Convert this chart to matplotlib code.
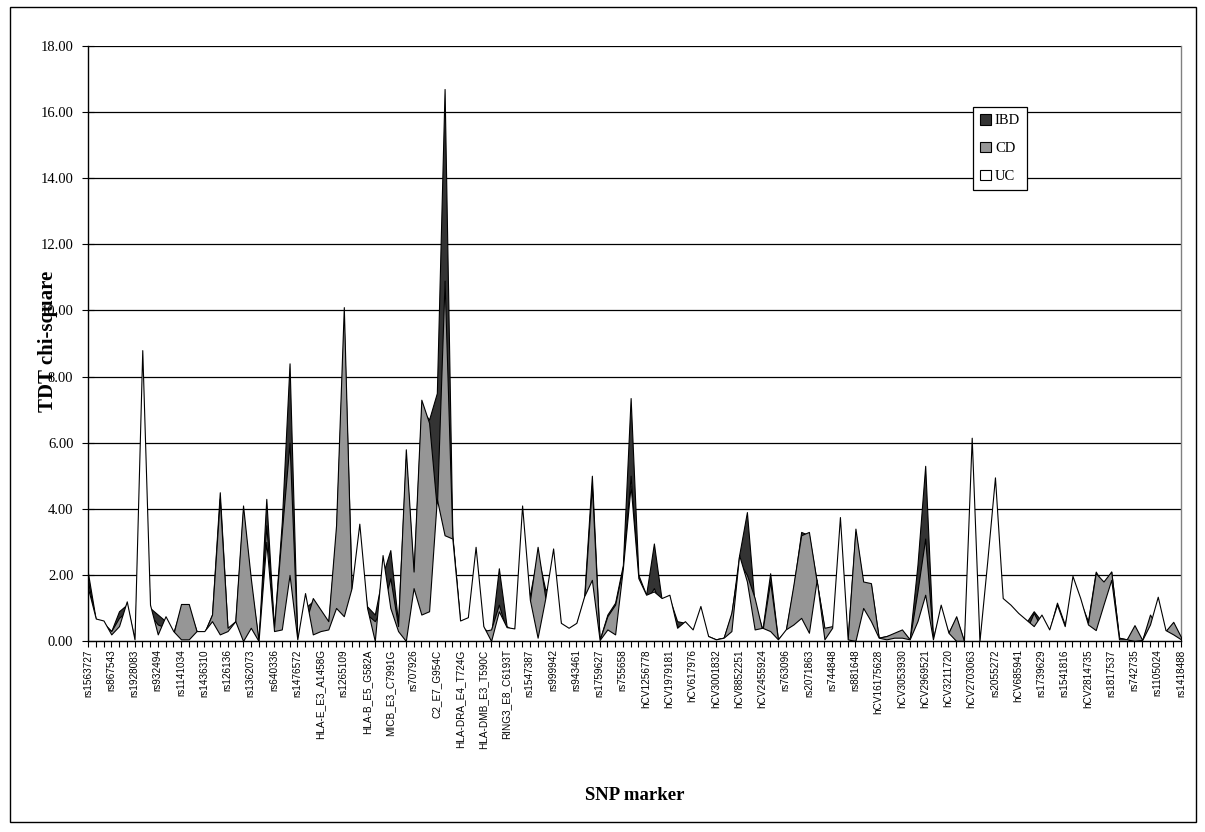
import matplotlib
matplotlib.use("Agg")
import matplotlib.pyplot as plt
from matplotlib.patches import Patch, Rectangle
import numpy as np

tick_labels = ["rs1563727", "rs867543", "rs1928083", "rs932494", "rs1141034", "rs1436310",
               "rs126136", "rs1362073", "rs640336", "rs1476572", "HLA-E_E3_A1458G", "rs1265109",
               "HLA-B_E5_G582A", "MICB_E3_C7991G", "rs707926", "C2_E7_G954C", "HLA-DRA_E4_T724G",
               "HLA-DMB_E3_T590C", "RING3_E8_C6193T", "rs1547387", "rs999942", "rs943461",
               "rs1759627", "rs755658", "hCV1256778", "hCV1979181", "hCV617976", "hCV3001832",
               "hCV8852251", "hCV2455924", "rs763096", "rs2071863", "rs744848", "rs881648",
               "hCV16175628", "hCV3053930", "hCV2969521", "hCV3211720", "hCV2703063", "rs2055272",
               "hCV685941", "rs1739629", "rs1541816", "hCV2814735", "rs1817537", "rs742735",
               "rs1105024", "rs1418488"]

ibd = [2.05, 0.65, 0.55, 0.3, 0.9, 1.1, 0.05, 5.5, 1.0, 0.8,
       0.6, 0.25, 1.0, 1.0, 0.3, 0.25, 0.8, 4.5, 0.35, 0.55,
       3.9, 1.7, 0.0, 4.3, 0.35, 3.6, 8.4, 0.05, 1.0, 1.2,
       0.85, 0.55, 3.2, 9.5, 1.7, 2.5, 1.05, 0.8, 2.0, 2.75,
       0.55, 5.5, 2.0, 7.0, 6.7, 7.5, 16.7, 3.2, 0.6, 0.7,
       1.5, 0.4, 0.2, 2.2, 0.45, 0.3, 2.0, 1.4, 2.6, 1.55,
       1.7, 0.5, 0.35, 0.5, 1.3, 5.0, 0.03, 0.8, 1.16, 2.3,
       7.35, 2.0, 1.4, 2.95, 1.25, 1.3, 0.6, 0.55, 0.3, 0.6,
       0.15, 0.05, 0.1, 0.8, 2.6, 3.9, 1.1, 0.35, 2.05, 0.05,
       0.3, 1.6, 3.3, 3.2, 1.8, 0.35, 0.4, 1.5, 0.05, 3.3,
       1.7, 1.7, 0.1, 0.15, 0.2, 0.3, 0.05, 2.3, 5.3, 0.1,
       0.9, 0.25, 0.7, 0.0, 3.0, 0.0, 1.5, 2.5, 1.0, 0.9,
       0.7, 0.55, 0.9, 0.6, 0.3, 1.16, 0.5, 1.5, 1.2, 0.6,
       2.1, 1.7, 2.1, 0.1, 0.05, 0.3, 0.03, 0.7, 0.7, 0.3,
       0.5, 0.1]

cd = [1.8, 0.6, 0.5, 0.3, 0.7, 0.9, 0.05, 2.0, 0.8, 0.5,
      0.4, 0.2, 1.12, 1.12, 0.3, 0.25, 0.8, 4.3, 0.4, 0.6,
      4.1, 1.9, 0.0, 3.5, 0.4, 3.3, 6.0, 0.05, 0.5, 1.3,
      0.95, 0.6, 3.5, 10.1, 1.5, 1.0, 0.8, 0.6, 1.0, 1.9,
      0.45, 5.8, 2.1, 7.3, 6.6, 4.0, 10.9, 3.15, 0.5, 0.5,
      0.3, 0.3, 0.35, 1.1, 0.3, 0.2, 0.5, 1.2, 2.85, 1.3,
      1.0, 0.4, 0.3, 0.4, 1.2, 4.7, 0.03, 0.75, 1.1, 2.2,
      5.0, 1.8, 1.2, 1.6, 1.0, 1.0, 0.45, 0.4, 0.25, 0.4,
      0.1, 0.05, 0.1, 0.86, 2.4, 2.0, 1.3, 0.3, 1.8, 0.05,
      0.3, 1.7, 3.2, 3.3, 1.8, 0.4, 0.45, 0.2, 0.05, 3.4,
      1.8, 1.75, 0.1, 0.15, 0.25, 0.35, 0.05, 1.5, 3.1, 0.1,
      0.6, 0.25, 0.75, 0.0, 0.5, 0.0, 0.3, 0.3, 0.3, 0.3,
      0.3, 0.3, 0.85, 0.4, 0.2, 0.8, 0.3, 0.8, 1.0, 0.55,
      2.05, 1.8, 2.1, 0.1, 0.05, 0.48, 0.03, 0.8, 0.4, 0.3,
      0.58, 0.12]

uc = [1.6, 0.68, 0.62, 0.2, 0.45, 1.2, 0.05, 8.8, 1.1, 0.2,
      0.75, 0.3, 0.05, 0.05, 0.3, 0.3, 0.6, 0.2, 0.3, 0.6,
      0.0, 0.4, 0.0, 3.0, 0.3, 0.35, 2.0, 0.05, 1.45, 0.2,
      0.3, 0.35, 1.0, 0.75, 1.6, 3.55, 1.0, 0.0, 2.6, 1.0,
      0.3, 0.0, 1.6, 0.8, 0.9, 4.3, 3.2, 3.1, 0.62, 0.72,
      2.85, 0.45, 0.0, 0.9, 0.42, 0.38, 4.1, 1.25, 0.1, 1.3,
      2.8, 0.55, 0.4, 0.55, 1.35, 1.85, 0.03, 0.35, 0.2, 2.2,
      4.7, 1.9, 1.4, 1.5, 1.3, 1.4, 0.4, 0.6, 0.35, 1.06,
      0.15, 0.05, 0.1, 0.3, 2.6, 1.8, 0.35, 0.4, 0.3, 0.05,
      0.35, 0.5, 0.7, 0.25, 1.85, 0.05, 0.4, 3.75, 0.05, 0.0,
      1.0, 0.6, 0.1, 0.05, 0.1, 0.1, 0.05, 0.6, 1.4, 0.05,
      1.1, 0.25, 0.0, 0.0, 6.15, 0.0, 2.4, 4.95, 1.3, 1.1,
      0.85, 0.65, 0.45, 0.8, 0.35, 1.1, 0.45, 1.97, 1.3, 0.5,
      0.33, 1.1, 1.85, 0.05, 0.05, 0.0, 0.03, 0.5, 1.34, 0.33,
      0.2, 0.05]

series = [("IBD", ibd, "#333333"), ("CD", cd, "#969696"), ("UC", uc, "#ffffff")]
label_step = 3

W, H = 1205, 832
fig = plt.figure(figsize=(W / 100, H / 100), dpi=100)
fig.patch.set_facecolor("white")
ax = fig.add_axes([88 / W, 1 - 641 / H, (1181 - 88) / W, (641 - 46) / H])

n = len(ibd)
x = np.arange(n)
for name, vals, col in series:
    ax.fill_between(x, 0, vals, facecolor=col, edgecolor="black", linewidth=0.8, zorder=3)

ax.set_xlim(0, n - 1)
ax.set_ylim(0, 18)
yt = np.arange(0, 18.01, 2)
ax.set_yticks(yt)
ax.set_yticklabels([f"{v:.2f}" for v in yt], fontfamily="Liberation Serif", fontsize=10.5)
for v in yt[1:]:
    ax.axhline(v, color="black", lw=0.9, zorder=1)

ax.set_xticks(x)
labs = [""] * n
for i, t in enumerate(tick_labels):
    if i * label_step < n:
        labs[i * label_step] = t
ax.set_xticklabels(labs, rotation=90, fontfamily="Liberation Sans", fontsize=7.2)
ax.tick_params(axis="x", direction="out", length=4, width=0.8, pad=2)
ax.tick_params(axis="y", direction="inout", length=9, width=0.8, pad=6)

for s in ["left", "bottom"]:
    ax.spines[s].set_color("black")
    ax.spines[s].set_linewidth(1.0)
    ax.spines[s].set_zorder(5)
ax.spines["top"].set_visible(False)
ax.spines["right"].set_color("#808080")
ax.spines["right"].set_linewidth(1.0)

fig.text(48 / W, 1 - 341 / H, "TDT chi-square", rotation=90, ha="center", va="center",
         fontfamily="Liberation Serif", fontweight="bold", fontsize=15)
fig.text(635 / W, 1 - 795 / H, "SNP marker", ha="center", va="center",
         fontfamily="Liberation Serif", fontweight="bold", fontsize=13.5)

handles = [Patch(facecolor=c, edgecolor="black", linewidth=0.8, label=nm) for nm, _, c in series]
leg = fig.legend(handles=handles, loc="upper left", bbox_to_anchor=(973 / W, 1 - 107 / H),
                 frameon=True, fancybox=False, edgecolor="black", framealpha=1,
                 prop={"family": "Liberation Serif", "size": 10.5},
                 handlelength=0.7, handleheight=0.7, handletextpad=0.3,
                 labelspacing=1.0, borderpad=0.5, borderaxespad=0)
leg.get_frame().set_linewidth(0.9)

fig.add_artist(Rectangle((10 / W, 1 - 822 / H), (1196 - 10) / W, (822 - 7) / H,
                         transform=fig.transFigure, fill=False, edgecolor="black", lw=1.0))

fig.savefig("out.png", dpi=100)
